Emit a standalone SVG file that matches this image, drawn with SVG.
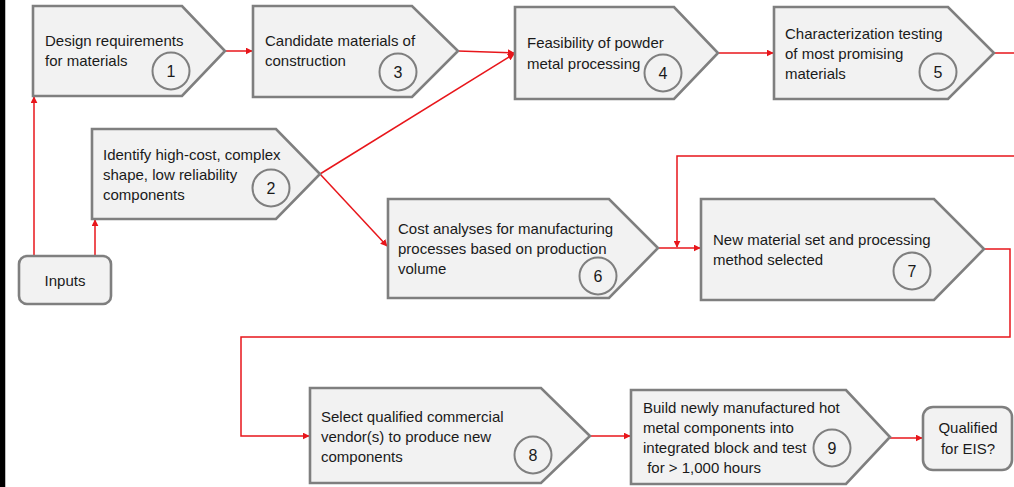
<svg xmlns="http://www.w3.org/2000/svg" width="1014" height="487" viewBox="0 0 1014 487">
<defs>
<marker id="ah" viewBox="0 0 10 10" refX="9" refY="5" markerWidth="7" markerHeight="7" markerUnits="userSpaceOnUse" orient="auto">
<path d="M0,0 L10,5 L0,10 z" fill="#e8161b"/>
</marker>
</defs>
<style>
.n{fill:#f2f2f2;stroke:#7f7f7f;stroke-width:2.6;stroke-linejoin:miter}
.c{fill:#f2f2f2;stroke:#7f7f7f;stroke-width:2}
.t{font-family:"Liberation Sans",Arial,sans-serif;font-size:15px;fill:#1a1a1a}
.d{font-family:"Liberation Sans",Arial,sans-serif;font-size:16px;fill:#1a1a1a;text-anchor:middle}
.m{text-anchor:middle}
.e{fill:none;stroke:#e8161b;stroke-width:1.5}
</style>
<rect x="0" y="0" width="1014" height="487" fill="#ffffff"/>
<rect x="0" y="0" width="5" height="487" fill="#000000"/>
<rect x="5" y="0" width="1" height="487" fill="#bdbdbd"/>

<g id="connectors">
<path class="e" d="M34,256 L34,97" marker-end="url(#ah)"/>
<path class="e" d="M95,256 L95,220" marker-end="url(#ah)"/>
<path class="e" d="M225,51 L252,51" marker-end="url(#ah)"/>
<path class="e" d="M458,51 L514,53" marker-end="url(#ah)"/>
<path class="e" d="M320,174 L514,54" marker-end="url(#ah)"/>
<path class="e" d="M320,174 L387,246" marker-end="url(#ah)"/>
<path class="e" d="M718,53 L773,53" marker-end="url(#ah)"/>
<path class="e" d="M994,53 L1017,53 L1017,156 L677,156 L677,247" marker-end="url(#ah)"/>
<path class="e" d="M658,248 L700,248" marker-end="url(#ah)"/>
<path class="e" d="M984,249 L1010,249 L1010,337 L241,337 L241,436 L309,436" marker-end="url(#ah)"/>
<path class="e" d="M590,436 L630,436" marker-end="url(#ah)"/>
<path class="e" d="M890,438 L922,438" marker-end="url(#ah)"/>
</g>

<g id="inputs">
<rect class="n" x="19" y="256" width="92" height="48" rx="8"/>
<text class="t m" x="65" y="286" font-size="16">Inputs</text>
</g>

<g id="node1">
<polygon class="n" points="33,6 182,6 225,51 182,96 33,96"/>
<text class="t" x="45" y="46">Design requirements</text>
<text class="t" x="45" y="66">for materials</text>
<circle class="c" cx="171" cy="71" r="18.5"/>
<text class="d" x="171" y="77">1</text>
</g>

<g id="node2">
<polygon class="n" points="92,129 276,129 320,174 276,219 92,219"/>
<text class="t" x="103" y="160">Identify high-cost, complex</text>
<text class="t" x="103" y="180">shape, low reliability</text>
<text class="t" x="103" y="200">components</text>
<circle class="c" cx="271" cy="188" r="18.5"/>
<text class="d" x="271" y="194">2</text>
</g>

<g id="node3">
<polygon class="n" points="253,6 412,6 458,51 412,97 253,97"/>
<text class="t" x="265" y="46">Candidate materials of</text>
<text class="t" x="265" y="66">construction</text>
<circle class="c" cx="398" cy="72" r="18.5"/>
<text class="d" x="398" y="78">3</text>
</g>

<g id="node4">
<polygon class="n" points="515,7 674,7 718,53 674,99 515,99"/>
<text class="t" x="527" y="48">Feasibility of powder</text>
<text class="t" x="527" y="69">metal processing</text>
<circle class="c" cx="663" cy="73" r="18.5"/>
<text class="d" x="663" y="79">4</text>
</g>

<g id="node5">
<polygon class="n" points="774,7 948,7 994,53 948,99 774,99"/>
<text class="t" x="785" y="39">Characterization testing</text>
<text class="t" x="785" y="59">of most promising</text>
<text class="t" x="785" y="79">materials</text>
<circle class="c" cx="938" cy="72" r="18.5"/>
<text class="d" x="938" y="78">5</text>
</g>

<g id="node6">
<polygon class="n" points="388,199 609,199 658,248 609,298 388,298"/>
<text class="t" x="398" y="234">Cost analyses for manufacturing</text>
<text class="t" x="398" y="254">processes based on production</text>
<text class="t" x="398" y="274">volume</text>
<circle class="c" cx="598" cy="276" r="18.5"/>
<text class="d" x="598" y="282">6</text>
</g>

<g id="node7">
<polygon class="n" points="701,199 934,199 984,249 934,300 701,300"/>
<text class="t" x="713" y="245">New material set and processing</text>
<text class="t" x="713" y="265">method selected</text>
<circle class="c" cx="912" cy="271" r="18.5"/>
<text class="d" x="912" y="277">7</text>
</g>

<g id="node8">
<polygon class="n" points="310,388 541,388 590,436 541,483 310,483"/>
<text class="t" x="321" y="422">Select qualified commercial</text>
<text class="t" x="321" y="442">vendor(s) to produce new</text>
<text class="t" x="321" y="462">components</text>
<circle class="c" cx="533" cy="455" r="18.5"/>
<text class="d" x="533" y="461">8</text>
</g>

<g id="node9">
<polygon class="n" points="631,390 846,390 890,437 846,484 631,484"/>
<text class="t" x="643" y="413">Build newly manufactured hot</text>
<text class="t" x="643" y="433">metal components into</text>
<text class="t" x="643" y="453">integrated block and test</text>
<text class="t" x="643" y="473" xml:space="preserve"> for &gt; 1,000 hours</text>
<circle class="c" cx="832" cy="448" r="18.5"/>
<text class="d" x="832" y="454">9</text>
</g>

<g id="qualified">
<rect class="n" x="923" y="407" width="89" height="63" rx="10"/>
<text class="t m" x="968" y="433">Qualified</text>
<text class="t m" x="968" y="454">for EIS?</text>
</g>
</svg>
